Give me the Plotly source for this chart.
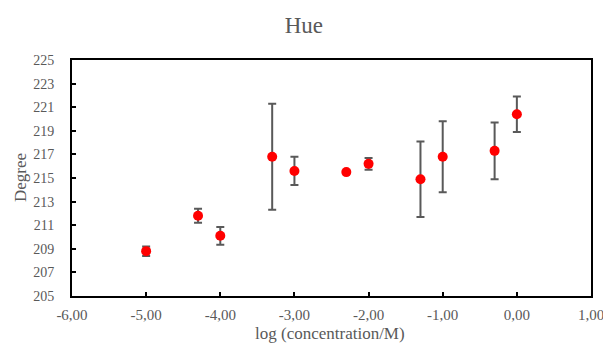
import plotly.graph_objects as go

log_conc = [-5.0, -4.3, -4.0, -3.3, -3.0, -2.3, -2.0, -1.3, -1.0, -0.3, 0.0]
hue_deg = [208.8, 211.8, 210.1, 216.8, 215.6, 215.5, 216.2, 214.9, 216.8, 217.3, 220.4]
hue_err = [0.4, 0.6, 0.75, 4.5, 1.2, 0.1, 0.5, 3.2, 3.0, 2.4, 1.5]

x_ticks = [-6, -5, -4, -3, -2, -1, 0, 1]
x_tick_labels = ["-6,00", "-5,00", "-4,00", "-3,00", "-2,00", "-1,00", "0,00", "1,00"]
y_ticks = list(range(205, 226, 2))

grey = "#595959"
font_family = "Liberation Serif, Times New Roman, DejaVu Serif, serif"

fig = go.Figure()
fig.add_trace(go.Scatter(
    x=log_conc, y=hue_deg, mode="markers",
    marker=dict(color="#ff0000", size=10),
    error_y=dict(type="data", array=hue_err, visible=True,
                 color="#595959", thickness=2, width=4),
    showlegend=False,
))

fig.update_layout(
    width=603, height=345,
    margin=dict(l=72, r=12, t=60, b=49),
    paper_bgcolor="white", plot_bgcolor="white",
    font=dict(family=font_family, color=grey, size=14),
    title=dict(text="Hue", x=0.504, xanchor="center", y=0.9275, yanchor="middle",
               font=dict(size=23, color=grey, family=font_family)),
    xaxis=dict(range=[-6, 1], tickvals=x_ticks, ticktext=x_tick_labels,
               showgrid=False, zeroline=False, showline=True, linecolor="black",
               linewidth=2, mirror=True, ticks="inside", ticklen=4, tickwidth=2,
               tickcolor="black", automargin=False, ticklabelstandoff=4,
               ticklabeloverflow="allow",
               tickfont=dict(size=15, color=grey, family=font_family)),
    yaxis=dict(range=[205, 225], tickvals=y_ticks,
               showgrid=False, zeroline=False, showline=True, linecolor="black",
               linewidth=2, mirror=True, ticks="inside", ticklen=4, tickwidth=2,
               tickcolor="black", automargin=False, ticklabelstandoff=13,
               tickfont=dict(size=14, color=grey, family=font_family)),
    annotations=[
        dict(text="log (concentration/M)", xref="paper", yref="paper",
             x=0.497, y=-0.157, xanchor="center", yanchor="middle",
             showarrow=False, font=dict(size=17, color=grey, family=font_family)),
        dict(text="Degree", xref="paper", yref="paper",
             x=-0.1, y=0.5, xanchor="center", yanchor="middle", textangle=-90,
             showarrow=False, font=dict(size=17, color=grey, family=font_family)),
    ],
)

fig.write_html("out.html",
               config={"displayModeBar": False},
               post_script="document.body.style.margin='0';document.body.style.overflow='hidden';")
